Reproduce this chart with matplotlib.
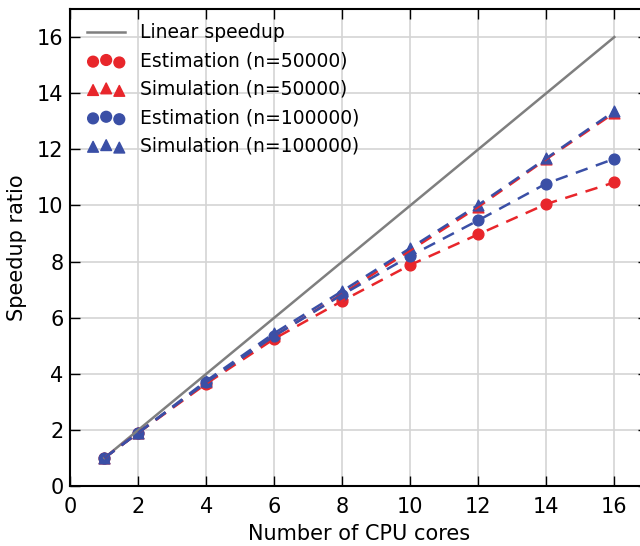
import matplotlib as mpl
import matplotlib.pyplot as plt
import numpy as np

mpl.rcParams['font.family'] = 'DejaVu Sans'
mpl.rcParams['font.size'] = 15

# nucleos e razao de speedup
cores = np.array([1, 2, 4, 6, 8, 10, 12, 14, 16])
linear = cores.copy()
est_50k = np.array([1.0, 1.9, 3.65, 5.25, 6.6, 7.88, 8.97, 10.05, 10.82])
sim_50k = np.array([1.0, 1.9, 3.7, 5.35, 6.85, 8.4, 9.95, 11.65, 13.3])
est_100k = np.array([1.0, 1.9, 3.7, 5.35, 6.82, 8.2, 9.47, 10.78, 11.66])
sim_100k = np.array([1.0, 1.9, 3.75, 5.45, 6.95, 8.48, 10.02, 11.68, 13.36])

red = '#e8262b'
blue = '#3a4fa6'
tracejado = (5, 3.5)

fig = plt.figure(figsize=(6.4, 5.46), dpi=100)
ax = fig.add_axes([0.110, 0.1099, 0.903, 0.8736])

ax.plot(cores, linear, color='#7f7f7f', lw=1.8, label='Linear speedup', zorder=3)
ax.scatter(cores, est_50k, color=red, marker='o', s=60, label='Estimation (n=50000)', zorder=2)
ax.scatter(cores, sim_50k, color=red, marker='^', s=60, label='Simulation (n=50000)', zorder=2)
ax.scatter(cores, est_100k, color=blue, marker='o', s=60, label='Estimation (n=100000)', zorder=2)
ax.scatter(cores, sim_100k, color=blue, marker='^', s=60, label='Simulation (n=100000)', zorder=2)
ax.plot(cores, est_50k, '--', color=red, lw=1.8, dashes=tracejado, zorder=3)
ax.plot(cores, sim_50k, '--', color=red, lw=1.8, dashes=tracejado, zorder=3)
ax.plot(cores, est_100k, '--', color=blue, lw=1.8, dashes=tracejado, zorder=3)
ax.plot(cores, sim_100k, '--', color=blue, lw=1.8, dashes=tracejado, zorder=3)

ax.set_xlim(0, 17)
ax.set_ylim(0, 17)
ax.set_xticks(np.arange(0, 17, 2))
ax.set_yticks(np.arange(0, 17, 2))
ax.grid(True, color='#d4d4d4', lw=1.2, zorder=0)
ax.set_axisbelow(True)
ax.tick_params(direction='in', length=7, width=1, top=True, right=True, labelsize=15)
ax.tick_params(axis='x', pad=8)
ax.tick_params(axis='y', pad=5)
for sp in ax.spines.values():
    sp.set_linewidth(1.5)

ax.set_xlabel('Number of CPU cores', fontsize=15, labelpad=5)
ax.set_ylabel('Speedup ratio', fontsize=15, labelpad=7)
ax.legend(loc='upper left', bbox_to_anchor=(0.0165, 0.986), frameon=False,
          scatterpoints=3, fontsize=13.5, handlelength=2.0, handletextpad=0.83,
          labelspacing=0.5, borderaxespad=0)

plt.savefig('out.png')
plt.close()
